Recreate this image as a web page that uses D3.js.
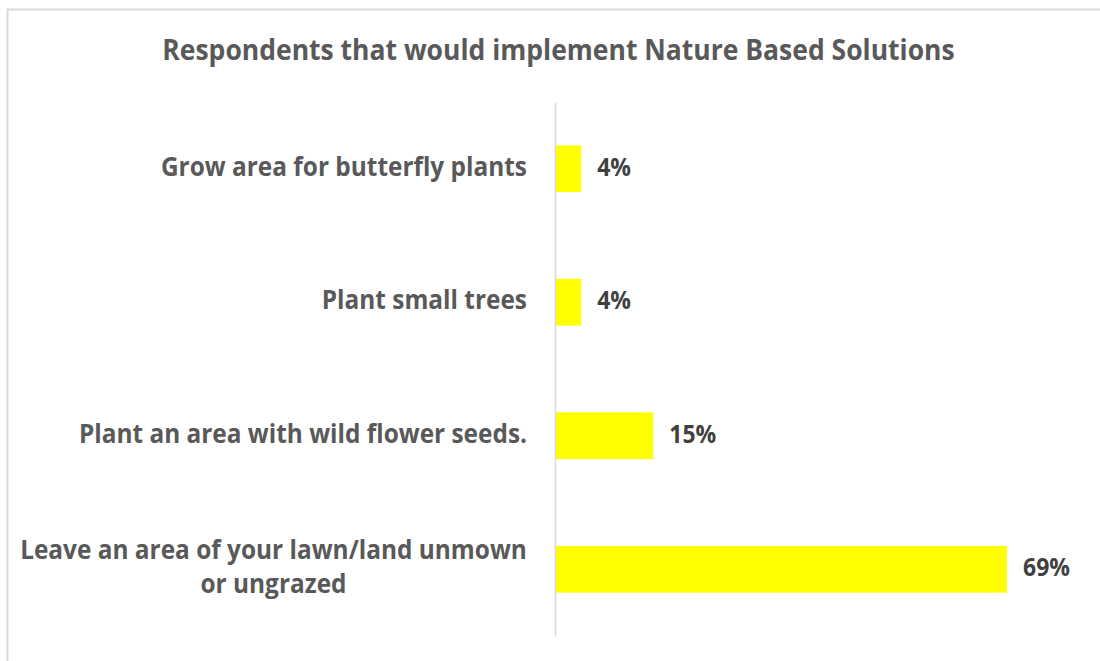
<!DOCTYPE html>
<html>
<head>
<meta charset="utf-8">
<script src="https://cdn.jsdelivr.net/npm/d3@7"></script>
<style>
  html, body { margin: 0; padding: 0; background: #ffffff; }
  svg { display: block; }
  text { font-family: "Open Sans", "Liberation Sans", sans-serif; font-weight: bold; }
</style>
</head>
<body>
<svg id="chart" width="1100" height="661"></svg>
<script>
// ---- data ----
const title = "Respondents that would implement Nature Based Solutions";
const categories = [
  ["Grow area for butterfly plants"],
  ["Plant small trees"],
  ["Plant an area with wild flower seeds."],
  ["Leave an area of your lawn/land unmown", "or ungrazed"]
];
const values = [0.04, 0.04, 0.15, 0.69];
const valueLabels = ["4%", "4%", "15%", "69%"];

// ---- layout ----
const W = 1100, H = 661;
const svg = d3.select("#chart");
const GROW = 1.1; // taller glyphs, horizontally condensed (Calibri-like)

svg.append("rect")
  .attr("x", 7.5).attr("y", 9.5)
  .attr("width", W + 20).attr("height", H + 20)
  .attr("fill", "#ffffff")
  .attr("stroke", "#d9d9d9")
  .attr("stroke-width", 2);

const plot = { left: 555, right: 1007, top: 102, bottom: 636 };

const x = d3.scaleLinear().domain([0, 0.69]).range([plot.left, plot.right]);
const y = d3.scaleBand()
  .domain(d3.range(categories.length))
  .range([plot.top, plot.bottom])
  .paddingInner(0.65)
  .paddingOuter(0.325);

function natural(str, fs) {
  const p = svg.append("text").style("font-size", fs + "px").text(str);
  const w = p.node().getComputedTextLength();
  p.remove();
  return w;
}
// font size such that str is targetW wide
function fitSize(str, targetW) {
  return 20 * targetW / natural(str, 20);
}
// render text at grown size, condensed to its natural width at base size
function condensed(sel, str, fsBase) {
  const w = natural(str, fsBase);
  sel.style("font-size", (fsBase * GROW) + "px")
    .attr("textLength", w)
    .attr("lengthAdjust", "spacingAndGlyphs")
    .text(str);
}

// title
const titleFs = fitSize(title, 793);
condensed(svg.append("text")
  .attr("x", 558.5).attr("y", 60)
  .attr("text-anchor", "middle")
  .attr("fill", "#595959"), title, titleFs);

// bars
svg.selectAll("rect.bar")
  .data(values)
  .join("rect")
  .attr("class", "bar")
  .attr("x", x(0))
  .attr("y", (d, i) => y(i))
  .attr("width", d => x(d) - x(0))
  .attr("height", y.bandwidth())
  .attr("fill", "#ffff00");

// category axis line
const axis = d3.axisLeft(y).tickSize(0).tickFormat("");
const ag = svg.append("g").attr("transform", `translate(${plot.left},0)`).call(axis);
ag.select(".domain").attr("stroke", "#d9d9d9").attr("stroke-width", 1.5);

// category labels
const labelFs = fitSize(categories[3][0], 507);
const lineH = 34;
categories.forEach((lines, i) => {
  const cy = y(i) + y.bandwidth() / 2;
  const n = lines.length;
  if (n === 1) {
    condensed(svg.append("text")
      .attr("fill", "#595959")
      .attr("x", 527).attr("y", cy + 7)
      .attr("text-anchor", "end"), lines[0], labelFs);
  } else {
    const cx = 527 - 507 / 2;
    lines.forEach((ln, j) => {
      condensed(svg.append("text")
        .attr("fill", "#595959")
        .attr("x", cx)
        .attr("y", cy + 7 + (j - (n - 1) / 2) * lineH)
        .attr("text-anchor", "middle"), ln, labelFs);
    });
  }
});

// value labels
const valFs = fitSize("69%", 47);
values.forEach((d, i) => {
  condensed(svg.append("text")
    .attr("class", "val")
    .attr("x", x(d) + 16)
    .attr("y", y(i) + y.bandwidth() / 2 + 7)
    .attr("fill", "#404040"), valueLabels[i], valFs);
});
</script>
</body>
</html>
